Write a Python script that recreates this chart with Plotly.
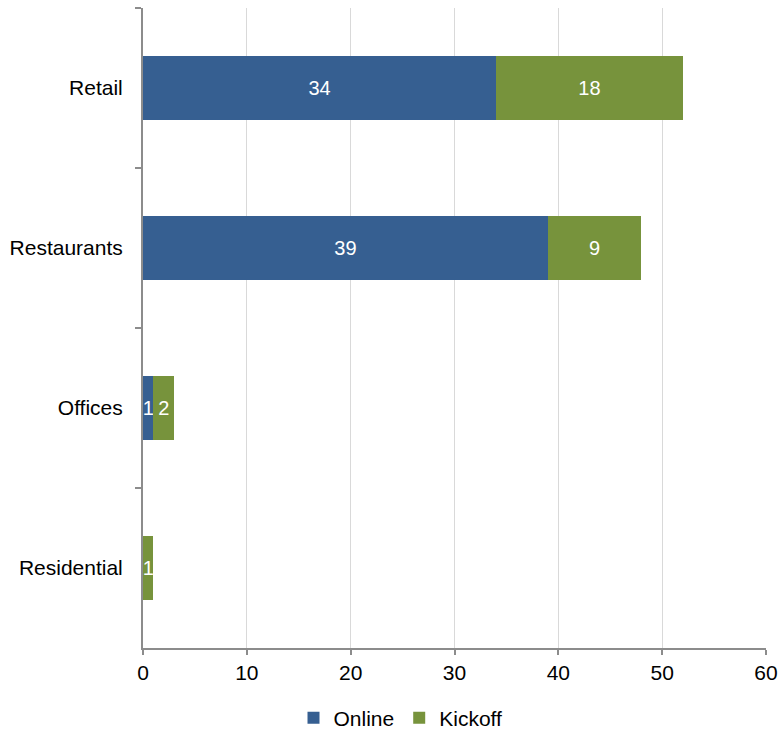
import plotly.graph_objects as go

categories = ["Retail", "Restaurants", "Offices", "Residential"]
online = [34, 39, 1, 0]
kickoff = [18, 9, 2, 1]

def labels(vals):
    return [str(v) if v else "" for v in vals]

FONT = "Liberation Sans"

fig = go.Figure()
fig.add_trace(go.Bar(
    y=categories, x=online, name="Online", orientation="h",
    marker=dict(color="#365F91", line=dict(width=0)),
    text=labels(online), textposition="inside", insidetextanchor="middle",
    textfont=dict(color="white", size=20, family=FONT),
    width=0.4,
))
fig.add_trace(go.Bar(
    y=categories, x=kickoff, name="Kickoff", orientation="h",
    marker=dict(color="#77933C", line=dict(width=0)),
    text=labels(kickoff), textposition="inside", insidetextanchor="middle",
    textfont=dict(color="white", size=20, family=FONT),
    width=0.4,
))

fig.update_layout(
    barmode="stack",
    width=783, height=732,
    margin=dict(l=143, r=17, t=8, b=84, autoexpand=False),
    plot_bgcolor="white", paper_bgcolor="white",
    font=dict(family=FONT, size=21, color="black"),
    uniformtext=dict(minsize=20, mode="show"),
    showlegend=True,
    legend=dict(orientation="h", x=0.5115, xref="container", xanchor="center",
                y=0.047, yref="container", yanchor="top",
                font=dict(size=21), itemwidth=30, traceorder="normal"),
    xaxis=dict(range=[0, 60], dtick=10, showgrid=True, gridcolor="#D9D9D9", gridwidth=1,
               showline=True, linecolor="#8C8C8C", linewidth=2,
               ticks="outside", ticklen=5, tickcolor="#8C8C8C", tickwidth=2,
               zeroline=False, tickfont=dict(size=21), automargin=False),
    yaxis=dict(categoryorder="array", categoryarray=categories, autorange="reversed",
               showline=True, linecolor="#8C8C8C", linewidth=2,
               ticks="outside", ticklen=6, tickcolor="#8C8C8C", tickwidth=2,
               tickson="boundaries", showgrid=False, ticklabelstandoff=14,
               tickfont=dict(size=21), automargin=False),
)

fig.write_html("out.html", config={"displayModeBar": False},
               post_script="document.body.style.margin='0';")
